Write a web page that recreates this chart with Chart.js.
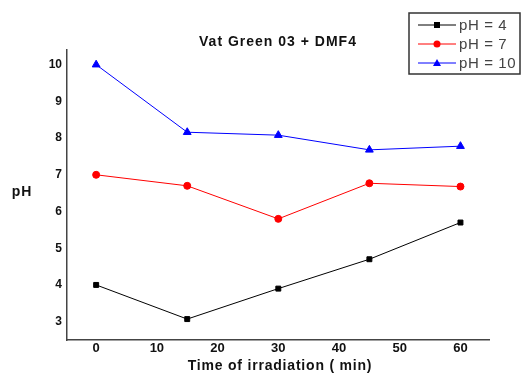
<!DOCTYPE html>
<html lang="en">
<head>
    <meta charset="UTF-8">
    <title>Vat Green 03 + DMF4</title>
    <script src="https://cdn.jsdelivr.net/npm/chart.js"></script>
    <style>
        html, body { margin: 0; padding: 0; background: #fff; }
        #wrap { width: 524px; height: 376px; }
    </style>
</head>
<body>
    <div id="wrap"><canvas id="phChart" width="524" height="376"></canvas></div>

    <script>
        // data
        const times = [0, 15, 30, 45, 60];
        const ph4 = [4.0, 3.07, 3.9, 4.7, 5.7];
        const ph7 = [7.0, 6.7, 5.8, 6.77, 6.68];
        const ph10 = [10.0, 8.16, 8.08, 7.68, 7.78];
        const xTicks = [0, 10, 20, 30, 40, 50, 60];
        const yTicks = [3, 4, 5, 6, 7, 8, 9, 10];
        const seriesNames = ['pH = 4', 'pH = 7', 'pH = 10'];

        const FONT = 'Liberation Sans, Arial, sans-serif';

        const toPoints = vals => vals.map((v, i) => ({ x: times[i], y: v }));

        // title, axis titles and the boxed legend
        const labelsPlugin = {
            id: 'labels',
            afterDraw(chart) {
                const ctx = chart.ctx;
                ctx.save();
                ctx.fillStyle = '#111';
                ctx.textAlign = 'center';
                ctx.textBaseline = 'middle';
                ctx.letterSpacing = '1px';
                ctx.font = 'bold 14px ' + FONT;
                ctx.fillText('Vat Green 03 + DMF4', 278, 42);
                ctx.letterSpacing = '0.8px';
                ctx.fillText('Time of irradiation ( min)', 280, 366);
                ctx.fillText('pH', 22, 192);

                // legend
                ctx.letterSpacing = '0.6px';
                ctx.strokeStyle = '#333';
                ctx.lineWidth = 1.5;
                ctx.strokeRect(409, 13, 111, 61);
                const ds = chart.data.datasets;
                ds.forEach((d, i) => {
                    const y = 25 + i * 19;
                    ctx.strokeStyle = d.borderColor;
                    ctx.lineWidth = 1;
                    ctx.beginPath();
                    ctx.moveTo(418, y);
                    ctx.lineTo(456, y);
                    ctx.stroke();
                    ctx.fillStyle = d.borderColor;
                    ctx.beginPath();
                    if (d.pointStyle === 'rect') {
                        ctx.rect(434, y - 3, 6, 6);
                    } else if (d.pointStyle === 'triangle') {
                        ctx.moveTo(437, y - 4);
                        ctx.lineTo(441, y + 3);
                        ctx.lineTo(433, y + 3);
                        ctx.closePath();
                    } else {
                        ctx.arc(437, y, 3.5, 0, Math.PI * 2);
                    }
                    ctx.fill();
                    ctx.fillStyle = '#444';
                    ctx.textAlign = 'left';
                    ctx.font = '15px ' + FONT;
                    ctx.fillText(d.label, 459, y + 1);
                });
                ctx.restore();
            }
        };

        new Chart(document.getElementById('phChart').getContext('2d'), {
            type: 'line',
            data: {
                datasets: [
                    {
                        label: seriesNames[0],
                        data: toPoints(ph4),
                        borderColor: '#000000',
                        backgroundColor: '#000000',
                        pointStyle: 'rect',
                        pointRadius: 3.5,
                        borderWidth: 1
                    },
                    {
                        label: seriesNames[1],
                        data: toPoints(ph7),
                        borderColor: '#ff0000',
                        backgroundColor: '#ff0000',
                        pointStyle: 'circle',
                        pointRadius: 3.5,
                        borderWidth: 1
                    },
                    {
                        label: seriesNames[2],
                        data: toPoints(ph10),
                        borderColor: '#0000ff',
                        backgroundColor: '#0000ff',
                        pointStyle: 'triangle',
                        pointRadius: 4.5,
                        borderWidth: 1
                    }
                ]
            },
            options: {
                responsive: false,
                animation: false,
                layout: { padding: { left: 0, right: 35, top: 50, bottom: 0 } },
                plugins: {
                    legend: { display: false },
                    title: { display: false },
                    tooltip: { enabled: false }
                },
                scales: {
                    x: {
                        type: 'linear',
                        min: -4.8,
                        max: 64.7,
                        afterBuildTicks: s => { s.ticks = xTicks.map(v => ({ value: v })); },
                        afterFit: s => { s.height = 36; },
                        grid: { display: false, drawTicks: false },
                        border: { display: true, color: '#444', width: 1.5 },
                        ticks: { padding: 1, color: '#111', font: { family: FONT, size: 13, weight: 'bold' } }
                    },
                    y: {
                        min: 2.5,
                        max: 10.4,
                        afterBuildTicks: s => { s.ticks = yTicks.map(v => ({ value: v })); },
                        afterFit: s => { s.width = 67; },
                        grid: { display: false, drawTicks: false },
                        border: { display: true, color: '#444', width: 1.5 },
                        ticks: { padding: 5, color: '#111', font: { family: FONT, size: 12, weight: 'bold' } }
                    }
                }
            },
            plugins: [labelsPlugin]
        });
    </script>
</body>
</html>
